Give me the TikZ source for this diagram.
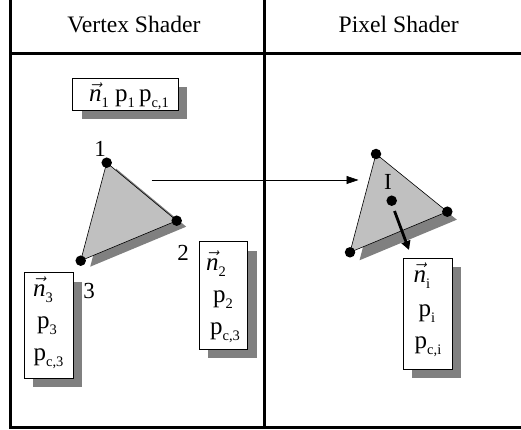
\documentclass[tikz,border=0pt]{standalone}
\usepackage{fontspec}
\setmainfont{Liberation Serif}
\usetikzlibrary{arrows.meta,shadows}
\definecolor{facegray}{RGB}{192,192,192}
\definecolor{shadegray}{RGB}{128,128,128}
% lowered small subscript and the normal vector symbol
\newcommand\lowsub[1]{\raisebox{-0.55ex}{\fontsize{14.5}{14.5}\selectfont #1}}
\newcommand\nv{$\vec{\textit{n}}$}
\tikzset{
  tabline/.style={line width=3pt},
  hdr/.style={font=\fontsize{23.6}{28}\selectfont, inner sep=0pt, anchor=base},
  lbl/.style={font=\fontsize{23}{27}\selectfont, inner sep=0pt},
  boxtxt/.style={font=\fontsize{25}{29}\selectfont, inner sep=0pt, anchor=base},
  infobox/.style={draw, fill=white, line width=0.7pt, inner sep=0pt,
    drop shadow={fill=shadegray, opacity=1, shadow xshift=9pt, shadow yshift=-9pt}},
  tri/.style={fill=facegray, draw=black, line width=0.6pt, line join=round},
  trishade/.style={fill=shadegray},
  vdot/.style={circle, fill=black, inner sep=0pt, minimum size=10.5pt},
  thinarrow/.style={line width=0.7pt, -{Triangle[length=12pt,width=8pt]}},
  thickarrow/.style={line width=2.8pt, -{Triangle[length=9pt,width=9pt]}},
}
\begin{document}
\begin{tikzpicture}[x=1pt,y=-1pt]
\useasboundingbox (0,0) rectangle (521,430);

% table frame
\draw[tabline] (10,-3) -- (10,427) -- (524,427);
\draw[tabline] (264,-3) -- (264,427);
\draw[tabline] (10,54) -- (524,54);

\node[hdr] (vsh) at (134,33) {Vertex Shader};
\node[hdr] (psh) at (398.7,33) {Pixel Shader};

% vertex shader triangle
\coordinate (a1) at (106.7,162.7);
\coordinate (a2) at (176.7,220.7);
\coordinate (a3) at (80.7,260.7);
\fill[trishade] ([shift={(9.5,6)}]a1) -- ([shift={(9.5,6)}]a2) -- ([shift={(9.5,6)}]a3) -- cycle;
\filldraw[tri] (a1) -- (a2) -- (a3) -- cycle;
\node[vdot] (da1) at (a1) {};
\node[vdot] (da2) at (a2) {};
\node[vdot] (da3) at (a3) {};
\node[lbl] (l1) at (100,149) {1};
\node[lbl] (l2) at (183,253) {2};
\node[lbl] (l3) at (89,291) {3};

% pixel shader triangle
\coordinate (b1) at (376,154);
\coordinate (b2) at (447.3,211.7);
\coordinate (b3) at (350,252.3);
\fill[trishade] ([shift={(9.5,8)}]b1) -- ([shift={(9.5,8)}]b2) -- ([shift={(9.5,8)}]b3) -- cycle;
\filldraw[tri] (b1) -- (b2) -- (b3) -- cycle;
\node[vdot] (db1) at (b1) {};
\node[vdot] (db2) at (b2) {};
\node[vdot] (db3) at (b3) {};
\node[vdot] (ip) at (391.7,200.7) {};
\node[lbl] (li) at (388,182) {I};

% transfer arrow and interpolated normal
\coordinate (trS) at (151.7,180);
\coordinate (trE) at (358.5,180);
\draw[thinarrow] (trS) -- (trE);
\coordinate (nS) at (394.5,211);
\coordinate (nE) at (409,250);
\draw[thickarrow] (nS) -- (nE);

% attribute boxes
\node[infobox, minimum width=105.6pt, minimum height=31.7pt] (box1) at (125.5,94.2) {};
\node[boxtxt] (t1) at (129,101.5) {\nv\lowsub{1}\ p\lowsub{1}\,p\lowsub{c,1}};

\node[infobox, minimum width=49pt, minimum height=105.8pt] (box3) at (48.8,325.4) {};
\node[boxtxt] (t3a) at (43,296) {\nv\lowsub{3}};
\node[boxtxt] (t3b) at (47,328) {p\lowsub{3}};
\node[boxtxt] (t3c) at (48.5,360) {p\lowsub{c,3}};

\node[infobox, minimum width=48.4pt, minimum height=107.3pt] (box2) at (223.5,295.4) {};
\node[boxtxt] (t2a) at (216,270) {\nv\lowsub{2}};
\node[boxtxt] (t2b) at (223,302) {p\lowsub{2}};
\node[boxtxt] (t2c) at (225,334) {p\lowsub{c,3}};

\node[infobox, minimum width=49pt, minimum height=110.7pt] (boxi) at (427.8,313.7) {};
\node[boxtxt] (tia) at (422,282) {\nv\lowsub{i}};
\node[boxtxt] (tib) at (427,316) {p\lowsub{i}};
\node[boxtxt] (tic) at (428,348) {p\lowsub{c,i}};
\end{tikzpicture}
\end{document}
